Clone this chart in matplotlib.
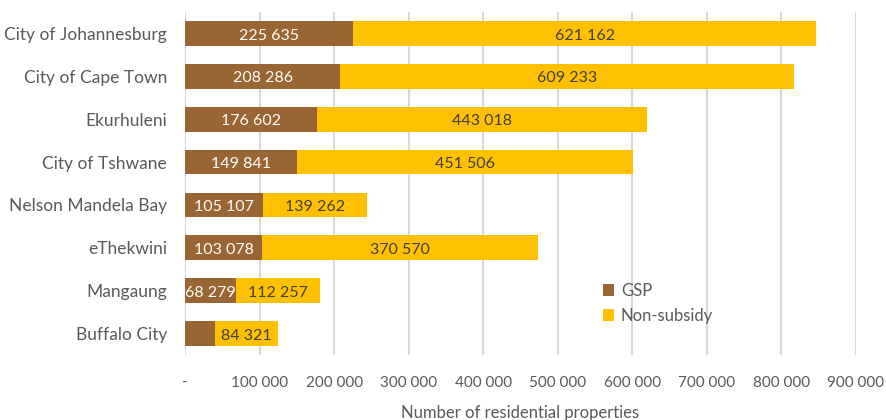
import matplotlib.pyplot as plt

# Residential properties per metro, split into GSP and non-subsidy
metros = ["City of Johannesburg", "City of Cape Town", "Ekurhuleni", "City of Tshwane",
          "Nelson Mandela Bay", "eThekwini", "Mangaung", "Buffalo City"]
gsp = [225635, 208286, 176602, 149841, 105107, 103078, 68279, 40000]
non_subsidy = [621162, 609233, 443018, 451506, 139262, 370570, 112257, 84321]
gsp_labels = ["225 635", "208 286", "176 602", "149 841", "105 107", "103 078", "68 279", ""]
non_subsidy_labels = ["621 162", "609 233", "443 018", "451 506", "139 262", "370 570", "112 257", "84 321"]
xticks = [0, 100000, 200000, 300000, 400000, 500000, 600000, 700000, 800000, 900000]
xtick_labels = ["-", "100 000", "200 000", "300 000", "400 000", "500 000",
                "600 000", "700 000", "800 000", "900 000"]

brown = "#996633"
gold = "#FFC000"
grey = "#595959"

plt.rcParams["font.family"] = ["Lato", "DejaVu Sans"]

fig = plt.figure(figsize=(8.87, 4.2), dpi=100)
ax = fig.add_axes([0.2086, 0.1548, 0.7564, 0.8166])

y = list(range(len(metros)))
ax.barh(y, gsp, height=0.58, color=brown, label="GSP", zorder=3)
ax.barh(y, non_subsidy, left=gsp, height=0.58, color=gold, label="Non-subsidy", zorder=3)

for i in y:
    if gsp_labels[i]:
        ax.text(gsp[i] / 2, i + 0.05, gsp_labels[i], ha="center", va="center",
                color="white", fontsize=11.5, zorder=4)
    ax.text(gsp[i] + non_subsidy[i] / 2, i + 0.05, non_subsidy_labels[i], ha="center",
            va="center", color="#404040", fontsize=11.5, zorder=4)

ax.set_xlim(0, 900000)
ax.set_ylim(len(metros) - 0.5, -0.5)
ax.set_yticks(y)
ax.set_yticklabels(metros, fontsize=12.5, color=grey)
ax.set_xticks(xticks)
ax.set_xticklabels(xtick_labels, fontsize=11, color=grey)
ax.tick_params(length=0)
ax.tick_params(axis="y", pad=13)
ax.tick_params(axis="x", pad=15)
ax.grid(axis="x", color="#d9d9d9", linewidth=1.5, zorder=0)
for s in ax.spines.values():
    s.set_visible(False)

ax.set_xlabel("Number of residential properties", fontsize=12, color=grey, labelpad=11)

ax.legend(loc="upper left", bbox_to_anchor=(0.6, 0.255), frameon=False, fontsize=12,
          labelcolor=grey, handlelength=0.7, handleheight=0.7, handletextpad=0.4,
          labelspacing=0.55)

fig.savefig("out.png", dpi=100)
